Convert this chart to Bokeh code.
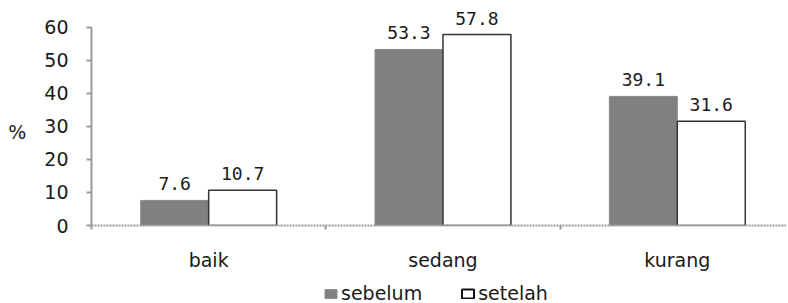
from bokeh.plotting import figure
from bokeh.layouts import column
from bokeh.models import (ColumnDataSource, Range1d, FixedTicker, Legend, LegendItem)
from bokeh.transform import dodge
from bokeh.core.properties import value
from bokeh.embed import file_html
from bokeh.resources import INLINE

categories = ["baik", "sedang", "kurang"]
sebelum = [7.6, 53.3, 39.1]
setelah = [10.7, 57.8, 31.6]
series_names = ["sebelum", "setelah"]
y_ticks = [0, 10, 20, 30, 40, 50, 60]

pos = [i + 0.5 for i in range(len(categories))]
src = ColumnDataSource(dict(
    x=pos, cat=categories, a=sebelum, b=setelah,
    at=[f"{v:.1f}" for v in sebelum], bt=[f"{v:.1f}" for v in setelah],
))

FONT = "DejaVu Sans"
TXT = "#1a1a1a"
GRAY = "#808080"

p = figure(width=786, height=273, output_backend="svg", toolbar_location=None,
           x_range=Range1d(0, 2.966), y_range=Range1d(0, 64.8),
           min_border_left=91, min_border_right=0, min_border_top=11,
           min_border_bottom=45)
p.outline_line_color = None
p.grid.visible = False

bw = 0.29
p.vbar(x=dodge("x", -bw / 2, range=p.x_range), top="a", width=bw, source=src,
       fill_color=GRAY, line_color="#8a8a8a", line_width=1)
p.vbar(x=dodge("x", bw / 2, range=p.x_range), top="b", width=bw, source=src,
       fill_color="white", line_color="#333333", line_width=1.5)

p.text(x=dodge("x", -bw / 2, range=p.x_range), y="a", text="at", source=src,
       text_align="center", text_baseline="bottom", y_offset=-10,
       text_font=value("DejaVu Sans Mono"), text_font_size="18px", text_color=TXT)
p.text(x=dodge("x", bw / 2, range=p.x_range), y="b", text="bt", source=src,
       text_align="center", text_baseline="bottom", y_offset=-10,
       text_font=value("DejaVu Sans Mono"), text_font_size="18px", text_color=TXT)

# x axis
xa = p.xaxis[0]
xa.ticker = FixedTicker(ticks=pos, minor_ticks=[float(i) for i in range(len(categories) + 1)])
xa.major_label_overrides = {pos[i]: c for i, c in enumerate(categories)}
xa.major_tick_out = 0
xa.major_tick_in = 0
xa.minor_tick_out = 4
xa.minor_tick_in = 0
xa.minor_tick_line_color = "#999999"
xa.minor_tick_line_width = 2
xa.axis_line_color = "#9a9a9a"
xa.axis_line_width = 2
xa.axis_line_dash = "2 1"
xa.major_label_standoff = 19
xa.major_label_text_font = FONT
xa.major_label_text_font_size = "19px"
xa.major_label_text_color = TXT

# y axis
ya = p.yaxis[0]
ya.ticker = FixedTicker(ticks=y_ticks, minor_ticks=[])
ya.bounds = (y_ticks[0], y_ticks[-1])
ya.major_tick_out = 5
ya.major_tick_in = 0
ya.major_tick_line_color = "#999999"
ya.major_tick_line_width = 2
ya.axis_line_color = "#9a9a9a"
ya.axis_line_width = 2
ya.major_label_standoff = 18
ya.major_label_text_font = FONT
ya.major_label_text_font_size = "19px"
ya.major_label_text_color = TXT
ya.axis_label = "\n%"
ya.axis_label_orientation = "horizontal"
ya.axis_label_standoff = 15
ya.axis_label_text_font = FONT
ya.axis_label_text_font_size = "19px"
ya.axis_label_text_font_style = "normal"
ya.axis_label_text_color = TXT

# legend strip (its frame is aligned with the main frame by the column layout);
# its ranges keep the proxy bars out of view so only the legend shows
lf = figure(width=786, height=31, output_backend="svg", toolbar_location=None,
            x_range=Range1d(-1003, -1000), y_range=Range1d(2000, 2001),
            x_axis_type=None, y_axis_type=None,
            min_border_left=0, min_border_right=0, min_border_top=0, min_border_bottom=0)
lf.outline_line_color = None
lf.grid.visible = False
d1 = lf.vbar(x="x", top="a", width=bw, source=src,
             fill_color=GRAY, line_color="#8a8a8a", line_width=1)
d2 = lf.vbar(x="x", top="b", width=bw, source=src,
             fill_color="white", line_color="#111111", line_width=2)
legend = Legend(items=[LegendItem(label=series_names[0], renderers=[d1]),
                       LegendItem(label=series_names[1], renderers=[d2])],
                location=(232, 0), orientation="horizontal",
                glyph_width=15, glyph_height=11, label_standoff=3, spacing=38,
                padding=0, margin=0, border_line_alpha=0, background_fill_alpha=0,
                label_text_font=FONT, label_text_font_size="19px",
                label_text_color=TXT, label_height=15)
lf.add_layout(legend, "center")

open("out.html", "w").write(file_html(column(p, lf, spacing=0), INLINE))
